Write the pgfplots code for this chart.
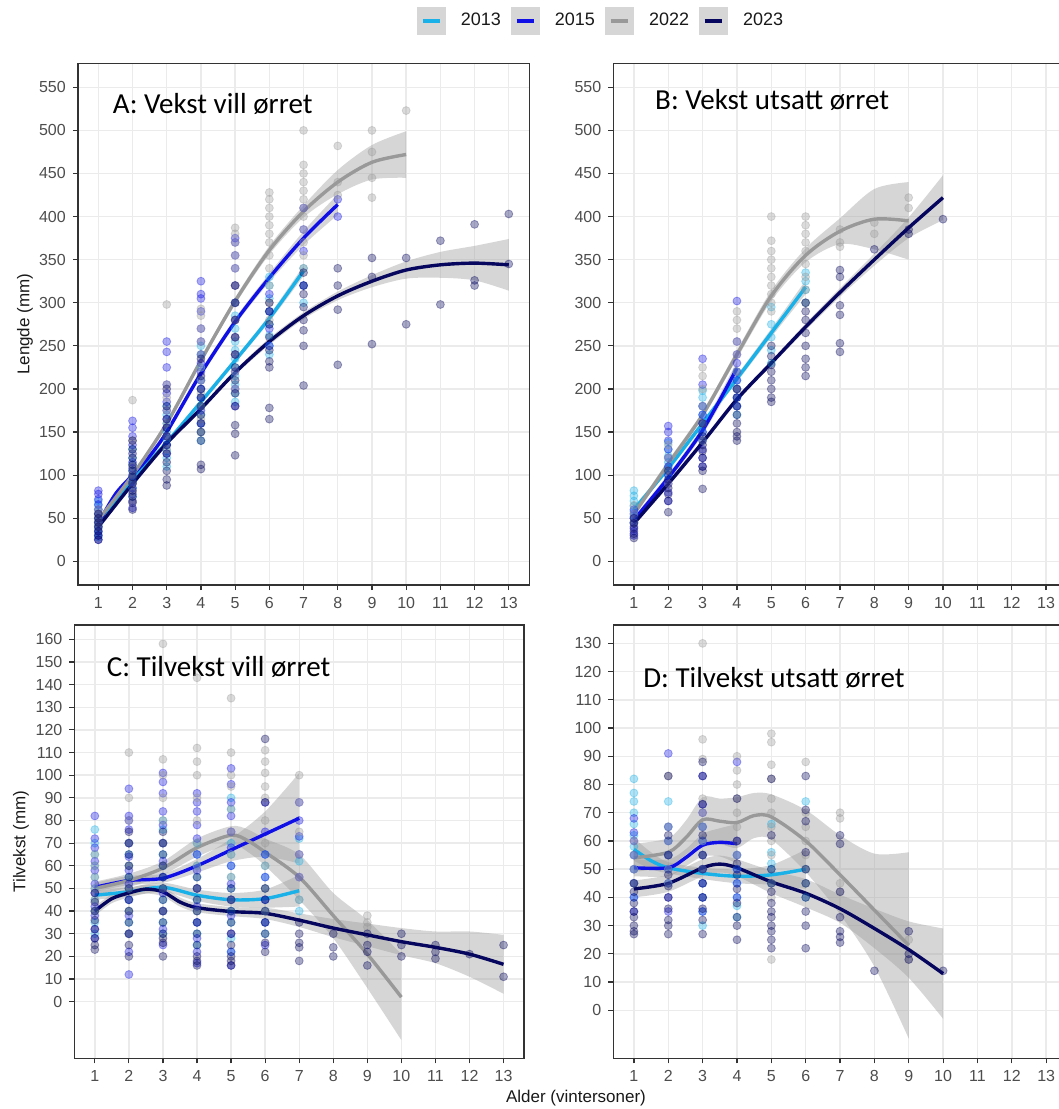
\documentclass[border=0pt]{standalone}
\usepackage{fontspec}
\setmainfont{Liberation Sans}
\newfontfamily\titlefont{Carlito}
\usepackage{pgfplots}
\usepackage{pgfplotstable}
\pgfplotsset{compat=1.18}
\usepgfplotslibrary{fillbetween}

\definecolor{cA}{HTML}{1AB0E8}
\definecolor{cB}{HTML}{1010E6}
\definecolor{cC}{HTML}{999999}
\definecolor{cD}{HTML}{06065E}
\definecolor{bandc}{HTML}{999999}
\definecolor{legkey}{HTML}{D6D6D6}
\definecolor{gridc}{HTML}{EBEBEB}
\definecolor{tickc}{HTML}{4D4D4D}
\definecolor{framec}{HTML}{333333}

% ---------------- smooth fits: x, fit, lower, upper ----------------
\pgfplotstableread{
x y lo hi
1 45 43 47
2 94 92 96
3 138 136 140
4 185 182 188
5 233 230 236
6 282 278 286
7 337 331 343
}\tAa
\pgfplotstableread{
x y lo hi
1 44 41 47
1.5 78 75 81
2 100 97 103
2.5 122 119 125
3 150 147 153
4 218 214 222
5 278 274 282
6 329 324 334
7 375 367 383
8 414 402 426
}\tAb
\pgfplotstableread{
x y lo hi
1 48 45 51
2 100 97 103
3 160 157 163
4 233 230 236
5 302 298 306
6 361 356 366
7 406 399 413
8 440 426 454
9 463 443 483
10 472 445 499
}\tAc
\pgfplotstableread{
x y lo hi
1 40 37 43
2 90 87 93
3 137 134 140
4 177 174 180
5 219 216 222
6 255 251 259
7 285 281 289
8 308 303 313
9 325 318 332
10 338 328 348
11 344 329 359
12 346 326 366
13 344 314 374
}\tAd
\pgfplotstableread{
x y lo hi
1 60 56 64
2 108 105 111
3 160 157 163
4 212 208 216
5 265 260 270
6 318 310 326
}\tBa
\pgfplotstableread{
x y lo hi
1 48 44 52
2 97 93 101
3 152 147 157
4 224 216 232
}\tBb
\pgfplotstableread{
x y lo hi
1 55 51 59
2 113 109 117
3 170 166 174
4 240 235 245
5 308 302 314
6 355 347 363
7 383 368 398
8 397 362 432
9 395 350 440
}\tBc
\pgfplotstableread{
x y lo hi
1 44 41 47
2 90 87 93
3 138 135 141
4 188 185 191
5 230 227 233
6 272 268 276
7 312 307 317
8 350 343 357
9 387 375 399
10 422 396 448
}\tBd
\pgfplotstableread{
x y lo hi
1 47 45 49
2 48.5 46.5 50.5
3 50.5 48.5 52.5
4 47 44.5 49.5
5 45 42 48
6 45.5 41.5 49.5
7 49 42 56
}\tCa
\pgfplotstableread{
x y lo hi
1 50.5 48.5 52.5
2 53.5 51.5 55.5
3 54.5 52.5 56.5
4 60 57 63
5 67 62 72
6 74 64 84
7 81 61 101
}\tCb
\pgfplotstableread{
x y lo hi
1 50 47 53
2 53.5 50.5 56.5
3 59 56 62
4 68 64 72
5 73.5 69.5 77.5
5.5 71 66 76
6 66 60 72
7 55 45 65
8 38 28 48
9 21 6 36
10 2 -17 21
}\tCc
\pgfplotstableread{
x y lo hi
1 40 38 42
1.5 45.5 43.5 47.5
2 48 46 50
2.5 49.7 47.7 51.7
3 48.5 46.5 50.5
3.5 44 42 46
4 41.5 39.5 43.5
5 39.8 37.8 41.8
6 39 36.5 41.5
7 36 33 39
8 32.5 28.5 36.5
9 29.5 24.5 34.5
10 26.5 20.5 32.5
11 24 17 31
12 21 11 31
13 16.5 3.5 29.5
}\tCd
\pgfplotstableread{
x y lo hi
1 57 53 61
1.5 53 50 56
2 50.5 48.5 52.5
3 48.5 46.5 50.5
4 47.5 45 50
5 48 44.5 51.5
6 50 43 57
}\tDa
\pgfplotstableread{
x y lo hi
1 50.5 47.5 53.5
2 50.5 47.5 53.5
2.5 54 51 57
3 58.5 54.5 62.5
3.5 59.5 54.5 64.5
4 59 52 66
}\tDb
\pgfplotstableread{
x y lo hi
1 54 49 59
2 56 51 61
2.5 61 55 67
3 67.5 59.5 75.5
3.5 67 59 75
4 66.5 57.5 75.5
4.5 69 61 77
5 68.5 60.5 76.5
6 60 49 71
7 48 34 62
8 35.5 15.5 55.5
9 23 -10 56
}\tDc
\pgfplotstableread{
x y lo hi
1 43 40 46
2 45 42 48
3 50.5 47.5 53.5
3.5 51.8 48.8 54.8
4 50.5 47.5 53.5
5 45.5 41.5 49.5
6 41.5 36.5 46.5
7 36 31 41
8 29 22 36
9 21.5 11.5 31.5
10 13 -3 29
}\tDd

\newcommand{\ser}[3]{%
  \addplot[draw=none, smooth, name path=#3u, forget plot] table[x=x,y=hi]{#1};
  \addplot[draw=none, smooth, name path=#3l, forget plot] table[x=x,y=lo]{#1};
  \addplot[fill=bandc, fill opacity=0.4, draw=none, forget plot] fill between[of=#3u and #3l];
  \addplot[#2, line width=1.7pt, smooth, forget plot] table[x=x,y=y]{#1};
}

\pgfplotsset{
  panel/.style={
    scale only axis,
    xmin=0.4, xmax=13.6,
    xtick={1,2,3,4,5,6,7,8,9,10,11,12,13},
    axis line style={framec, line width=0.75pt},
    grid=major,
    major grid style={gridc, line width=0.7pt},
    tick align=outside,
    tick pos=left,
    major tick length=2.5pt,
    tick style={framec, line width=0.6pt},
    tick label style={font=\fontsize{8}{9}\selectfont, text=tickc},
    /pgf/number format/assume math mode=true,
    label style={font=\fontsize{8.5}{10}\selectfont, text=black!90},
  },
  pts/.style={only marks, mark=*, mark size=2pt, color=#1, fill=#1,
    opacity=0.35, forget plot},
}
\tikzset{ttl/.style={anchor=base west, inner sep=0pt, font=\titlefont\fontsize{14.5}{16}\selectfont}}

\begin{document}
\begin{tikzpicture}

% ================= A =================
\begin{axis}[panel, at={(38.9pt,-292.5pt)}, anchor=south west,
  width=225.75pt, height=260.7pt,
  ymin=-27.5, ymax=577.5, ytick={0,50,...,550},
  ylabel={Lengde (mm)},
  ylabel style={at={(axis description cs:-0.117,0.5)}, anchor=center},
  legend image code/.code={\fill[legkey] (0pt,-6pt) rectangle (12.5pt,6pt);
     \draw[#1] (1.8pt,0pt) -- (10.7pt,0pt);},
  legend style={at={(1.1566,1.0817)}, anchor=center, draw=none, fill=none,
     legend columns=4, font=\fontsize{9}{10}\selectfont, text=black!90,
     inner sep=0pt,
     /tikz/every odd column/.append style={column sep=7.5pt},
     /tikz/every even column/.append style={column sep=5pt},
     nodes={inner sep=0pt}},
]
\addlegendimage{cA, line width=2pt}\addlegendentry{2013}
\addlegendimage{cB, line width=2pt}\addlegendentry{2015}
\addlegendimage{cC, line width=2pt}\addlegendentry{2022}
\addlegendimage{cD, line width=2pt}\addlegendentry{2023}
\addplot[pts=cA] coordinates {(1,28)(1,33)(1,38)(1,42)(1,46)(1,50)(1,55)(1,60)(1,65)(1,70)
(2,75)(2,85)(2,92)(2,98)(2,105)(2,112)(2,120)(2,130)
(3,110)(3,120)(3,128)(3,135)(3,142)(3,150)(3,160)(3,170)(3,180)
(4,140)(4,150)(4,160)(4,170)(4,180)(4,190)(4,200)(4,210)(4,225)(4,240)(4,250)
(5,185)(5,195)(5,205)(5,215)(5,225)(5,235)(5,245)(5,255)(5,270)(5,285)(5,300)
(6,240)(6,250)(6,262)(6,275)(6,290)(6,305)(6,320)(6,330)
(7,300)(7,320)(7,340)};
\addplot[pts=cB] coordinates {(1,25)(1,30)(1,35)(1,40)(1,45)(1,50)(1,55)(1,60)(1,66)(1,72)(1,78)(1,82)
(2,62)(2,70)(2,78)(2,85)(2,92)(2,100)(2,108)(2,115)(2,125)(2,135)(2,145)(2,155)(2,163)
(3,125)(3,135)(3,145)(3,155)(3,165)(3,175)(3,185)(3,195)(3,205)(3,225)(3,243)(3,255)
(4,160)(4,175)(4,190)(4,200)(4,210)(4,220)(4,230)(4,240)(4,255)(4,270)(4,290)(4,305)(4,310)(4,325)
(5,180)(5,200)(5,220)(5,240)(5,260)(5,280)(5,300)(5,320)(5,340)(5,355)(5,370)(5,375)
(6,250)(6,270)(6,290)(6,310)(7,320)(7,360)(7,385)(7,410)(8,400)(8,420)};
\addplot[pts=cC] coordinates {(1,40)(1,45)(1,50)(1,55)(1,60)
(2,70)(2,80)(2,90)(2,100)(2,110)(2,125)(2,140)(2,187)
(3,130)(3,145)(3,160)(3,175)(3,190)(3,205)(3,298)
(4,150)(4,165)(4,180)(4,195)(4,210)(4,225)(4,240)(4,255)(4,270)(4,285)(4,293)
(5,200)(5,220)(5,240)(5,260)(5,280)(5,300)(5,320)(5,340)(5,355)(5,370)(5,380)(5,387)
(6,280)(6,300)(6,320)(6,340)(6,355)(6,370)(6,380)(6,390)(6,400)(6,410)(6,420)(6,428)
(7,340)(7,355)(7,370)(7,385)(7,400)(7,410)(7,420)(7,430)(7,440)(7,450)(7,460)(7,500)
(8,425)(8,440)(8,482)(9,422)(9,445)(9,475)(9,500)(10,523)};
\addplot[pts=cD] coordinates {(1,25)(1,30)(1,35)(1,40)(1,45)(1,50)(1,55)
(2,60)(2,68)(2,75)(2,82)(2,90)(2,98)(2,105)(2,112)(2,120)(2,130)(2,140)
(3,88)(3,95)(3,105)(3,115)(3,125)(3,135)(3,145)(3,155)(3,165)(3,180)(3,200)
(4,107)(4,112)(4,140)(4,150)(4,160)(4,170)(4,180)(4,190)(4,200)(4,215)(4,235)
(5,123)(5,148)(5,158)(5,180)(5,195)(5,210)(5,225)(5,240)(5,260)(5,280)(5,300)(5,320)
(6,165)(6,178)(6,225)(6,232)(6,245)(6,260)(6,275)(6,290)(6,300)
(7,204)(7,250)(7,268)(7,280)(7,295)(7,310)(7,320)(7,335)
(8,228)(8,292)(8,320)(8,340)(9,252)(9,330)(9,352)(10,275)(10,352)
(11,298)(11,372)(12,320)(12,326)(12,391)(13,345)(13,403)};
\ser{\tAa}{cA}{Aa}
\ser{\tAb}{cB}{Ab}
\ser{\tAc}{cC}{Ac}
\ser{\tAd}{cD}{Ad}
\node[ttl] at (rel axis cs:0.077,0.904) {A: Vekst vill ørret};
\end{axis}

% ================= B =================
\begin{axis}[panel, at={(306.65pt,-292.5pt)}, anchor=south west,
  width=226.65pt, height=260.7pt,
  ymin=-27.5, ymax=577.5, ytick={0,50,...,550},
]
\addplot[pts=cA] coordinates {(1,45)(1,52)(1,58)(1,64)(1,70)(1,76)(1,82)(2,100)(2,108)(2,115)(2,122)(2,130)(2,138)
(3,140)(3,150)(3,160)(3,170)(3,180)(3,190)(3,198)(4,170)(4,180)(4,190)(4,200)(4,210)(4,220)
(5,230)(5,245)(5,260)(5,275)(5,295)(6,300)(6,315)(6,325)(6,335)};
\addplot[pts=cB] coordinates {(1,30)(1,35)(1,40)(1,45)(1,50)(1,55)(1,60)(2,70)(2,80)(2,90)(2,100)(2,110)(2,120)(2,130)(2,140)(2,150)(2,157)
(3,110)(3,120)(3,130)(3,140)(3,150)(3,160)(3,170)(3,180)(3,205)(3,235)
(4,180)(4,190)(4,200)(4,210)(4,220)(4,230)(4,240)(4,255)(4,302)};
\addplot[pts=cC] coordinates {(1,45)(1,55)(1,65)(2,90)(2,105)(2,120)(2,135)(3,140)(3,160)(3,180)(3,200)(3,215)(3,225)
(4,200)(4,220)(4,240)(4,255)(4,270)(4,280)(4,290)
(5,290)(5,300)(5,310)(5,320)(5,330)(5,340)(5,350)(5,360)(5,372)(5,400)
(6,300)(6,315)(6,330)(6,345)(6,360)(6,370)(6,380)(6,390)(6,400)(7,365)(7,370)(7,385)(8,380)(8,393)(9,410)(9,422)};
\addplot[pts=cD] coordinates {(1,27)(1,32)(1,38)(1,44)(1,50)(2,57)(2,70)(2,78)(2,85)(2,95)(2,105)
(3,84)(3,105)(3,110)(3,120)(3,128)(3,135)(3,145)(3,160)(4,140)(4,145)(4,150)(4,160)(4,170)(4,180)(4,190)(4,200)
(5,185)(5,190)(5,200)(5,210)(5,220)(5,228)(5,238)(5,250)(6,215)(6,225)(6,235)(6,250)(6,265)(6,280)(6,290)(6,300)
(7,243)(7,253)(7,286)(7,297)(7,330)(7,338)(8,362)(9,380)(9,385)(10,397)};
\ser{\tBa}{cA}{Ba}
\ser{\tBb}{cB}{Bb}
\ser{\tBc}{cC}{Bc}
\ser{\tBd}{cD}{Bd}
\node[ttl] at (rel axis cs:0.0916,0.912) {B: Vekst utsatt ørret};
\end{axis}

% ================= C =================
\begin{axis}[panel, at={(37.2pt,-529.15pt)}, anchor=south west,
  width=224.8pt, height=216.65pt,
  ymin=-25, ymax=166.3, ytick={0,10,...,160},
  ylabel={Tilvekst (mm)},
  ylabel style={at={(axis description cs:-0.119,0.5)}, anchor=center},
  xlabel={Alder (vintersoner)},
  xlabel style={at={(axis description cs:1.1157,-0.0916)}, anchor=center},
]
\addplot[pts=cA] coordinates {(1,30)(1,35)(1,40)(1,45)(1,50)(1,55)(1,60)(1,65)(1,70)(1,76)
(2,30)(2,35)(2,40)(2,45)(2,50)(2,55)(2,60)(2,65)(2,70)
(3,30)(3,35)(3,40)(3,45)(3,50)(3,55)(3,60)(3,65)(3,70)(3,76)(3,80)
(4,25)(4,30)(4,35)(4,40)(4,45)(4,50)(4,55)(4,60)(4,65)(4,70)
(5,22)(5,28)(5,35)(5,40)(5,45)(5,50)(5,55)(5,60)(5,65)(5,70)(5,85)(5,90)
(6,30)(6,35)(6,40)(6,45)(6,50)(6,55)(6,60)(6,65)(7,40)(7,45)(7,62)(7,72)};
\addplot[pts=cB] coordinates {(1,28)(1,32)(1,38)(1,42)(1,48)(1,52)(1,58)(1,62)(1,68)(1,72)(1,82)
(2,12)(2,22)(2,30)(2,38)(2,45)(2,52)(2,58)(2,64)(2,70)(2,76)(2,80)(2,82)(2,94)
(3,25)(3,32)(3,40)(3,48)(3,55)(3,62)(3,70)(3,78)(3,84)(3,92)(3,97)(3,101)
(4,17)(4,22)(4,28)(4,35)(4,42)(4,50)(4,58)(4,65)(4,72)(4,78)(4,84)(4,88)(4,92)
(5,16)(5,22)(5,30)(5,38)(5,45)(5,52)(5,60)(5,68)(5,75)(5,82)(5,88)(5,96)(5,103)
(6,25)(6,35)(6,45)(6,55)(6,65)(6,75)(6,88)(7,55)(7,65)(7,73)(7,80)(7,88)};
\addplot[pts=cC] coordinates {(1,40)(1,45)(1,50)(1,55)(1,60)(1,65)
(2,30)(2,40)(2,50)(2,60)(2,70)(2,80)(2,90)(2,110)
(3,40)(3,50)(3,60)(3,70)(3,80)(3,90)(3,100)(3,107)(3,158)
(4,40)(4,50)(4,60)(4,70)(4,80)(4,90)(4,100)(4,106)(4,112)(4,143)
(5,45)(5,55)(5,65)(5,75)(5,85)(5,95)(5,100)(5,110)(5,134)
(6,40)(6,50)(6,60)(6,70)(6,80)(6,90)(6,95)(6,101)(6,106)(6,111)
(7,45)(7,55)(7,65)(7,75)(7,88)(7,100)(9,33)(9,35)(9,38)};
\addplot[pts=cD] coordinates {(1,23)(1,25)(1,28)(1,32)(1,36)(1,40)(1,44)(1,48)
(2,20)(2,25)(2,30)(2,35)(2,40)(2,45)(2,50)(2,55)(2,60)(2,65)(2,70)(2,75)
(3,20)(3,26)(3,28)(3,30)(3,35)(3,40)(3,45)(3,50)(3,55)(3,60)(3,65)(3,70)(3,75)
(4,16)(4,18)(4,20)(4,25)(4,30)(4,35)(4,40)(4,45)(4,50)(4,55)
(5,16)(5,18)(5,20)(5,25)(5,30)(5,35)(5,40)(5,45)(5,50)
(6,22)(6,26)(6,30)(6,35)(6,40)(6,45)(6,50)(6,88)(6,116)
(7,18)(7,24)(7,26)(7,30)(7,35)(8,20)(8,24)(8,30)(9,16)(9,22)(9,25)(9,30)
(10,20)(10,25)(10,30)(11,19)(11,22)(11,25)(12,21)(13,11)(13,25)};
\ser{\tCa}{cA}{Ca}
\ser{\tCb}{cB}{Cb}
\ser{\tCc}{cC}{Cc}
\ser{\tCd}{cD}{Cd}
\node[ttl] at (rel axis cs:0.0714,0.882) {C: Tilvekst vill ørret};
\end{axis}

% ================= D =================
\begin{axis}[panel, at={(306.65pt,-529.15pt)}, anchor=south west,
  width=226.75pt, height=216.65pt,
  ymin=-17, ymax=136.5, ytick={0,10,...,130},
]
\addplot[pts=cA] coordinates {(1,40)(1,45)(1,50)(1,55)(1,58)(1,62)(1,66)(1,70)(1,74)(1,77)(1,82)
(2,45)(2,50)(2,55)(2,60)(2,65)(2,74)(3,30)(3,35)(3,40)(3,45)(3,50)(3,55)(3,60)(3,65)
(4,33)(4,37)(4,40)(4,45)(4,50)(4,55)(5,45)(5,50)(5,52)(5,56)(5,66)(6,40)(6,45)(6,50)(6,74)};
\addplot[pts=cB] coordinates {(1,35)(1,40)(1,45)(1,50)(1,55)(1,60)(1,63)(1,68)
(2,35)(2,40)(2,45)(2,50)(2,55)(2,60)(2,65)(2,91)
(3,35)(3,40)(3,45)(3,50)(3,55)(3,60)(3,65)(3,70)(3,73)(3,83)(4,40)(4,45)(4,50)(4,55)(4,60)(4,88)};
\addplot[pts=cC] coordinates {(1,45)(1,50)(1,55)(1,60)(2,45)(2,50)(2,55)(2,60)(2,65)(2,83)
(3,50)(3,55)(3,60)(3,65)(3,70)(3,75)(3,89)(3,96)(3,130)(4,55)(4,60)(4,65)(4,70)(4,75)(4,80)(4,85)(4,90)
(5,18)(5,40)(5,45)(5,55)(5,60)(5,65)(5,70)(5,75)(5,82)(5,87)(5,95)(5,98)
(6,45)(6,50)(6,55)(6,60)(6,65)(6,70)(6,88)(7,42)(7,45)(7,68)(7,70)(9,18)(9,25)};
\addplot[pts=cD] coordinates {(1,27)(1,28)(1,30)(1,33)(1,35)(1,38)(1,42)(1,45)
(2,27)(2,30)(2,32)(2,36)(2,40)(2,44)(2,48)(2,55)(2,62)(2,83)
(3,27)(3,32)(3,36)(3,40)(3,45)(3,50)(3,55)(3,62)(3,73)(3,83)(3,88)
(4,25)(4,30)(4,33)(4,38)(4,43)(4,48)(4,52)(4,60)(4,75)
(5,22)(5,25)(5,28)(5,30)(5,33)(5,35)(5,38)(5,42)(5,45)(5,50)(5,62)(5,82)
(6,22)(6,30)(6,35)(6,40)(6,45)(6,50)(6,56)(6,67)(6,71)(6,83)
(7,24)(7,26)(7,28)(7,33)(7,42)(7,59)(7,62)(8,14)(9,18)(9,20)(9,28)(10,14)};
\ser{\tDa}{cA}{Da}
\ser{\tDb}{cB}{Db}
\ser{\tDc}{cC}{Dc}
\ser{\tDd}{cD}{Dd}
\node[ttl] at (rel axis cs:0.0655,0.856) {D: Tilvekst utsatt ørret};
\end{axis}
\pgfresetboundingbox
\useasboundingbox (0,0) rectangle (529.5pt,-554.5pt);
\end{tikzpicture}
\end{document}
